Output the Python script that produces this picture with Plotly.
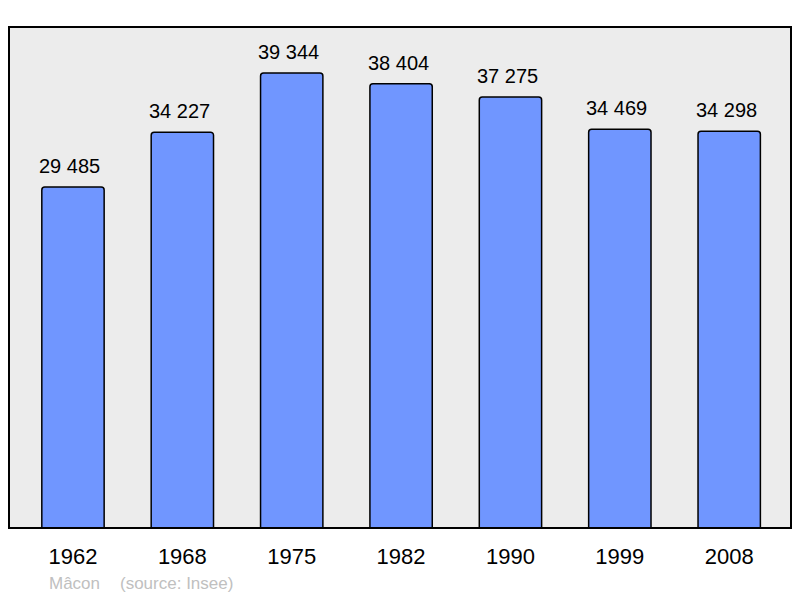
import plotly.graph_objects as go

years = ["1962", "1968", "1975", "1982", "1990", "1999", "2008"]
population = [29485, 34227, 39344, 38404, 37275, 34469, 34298]
labels = ["29 485", "34 227", "39 344", "38 404", "37 275", "34 469", "34 298"]

FONT = "Liberation Sans, Arial"

fig = go.Figure()
fig.add_trace(go.Bar(
    x=years, y=population,
    width=0.57,
    marker=dict(color="#7096ff", line=dict(color="#000000", width=1.5), cornerradius=3),
    hoverinfo="skip",
))

for i, (val, lab) in enumerate(zip(population, labels)):
    fig.add_annotation(x=i, y=val, text=lab, showarrow=False, yanchor="bottom",
                       yshift=8, xshift=-3, font=dict(family=FONT, size=20, color="#000"))

fig.add_shape(type="rect", xref="paper", yref="paper", x0=0, y0=0, x1=1, y1=1,
              line=dict(color="#000", width=2), layer="above")

fig.add_annotation(xref="paper", yref="paper", x=0.0486, y=-0.11, xanchor="left", yanchor="middle",
                   text="Mâcon", showarrow=False,
                   font=dict(family=FONT, size=17, color="#c0c0c0"))
fig.add_annotation(xref="paper", yref="paper", x=0.1394, y=-0.11, xanchor="left", yanchor="middle",
                   text="(source: Insee)", showarrow=False,
                   font=dict(family=FONT, size=17, color="#c0c0c0"))

fig.update_layout(
    width=800, height=598,
    margin=dict(l=9, r=9, t=27, b=70),
    paper_bgcolor="#ffffff", plot_bgcolor="#ececec",
    showlegend=False,
    xaxis=dict(type="category", range=[-0.585, 6.565], showgrid=False, zeroline=False, ticks="outside",
               ticklen=9, tickcolor="rgba(0,0,0,0)",
               tickfont=dict(family=FONT, size=22, color="#000")),
    yaxis=dict(range=[0, 43320], showgrid=False, zeroline=False, showticklabels=False),
)

fig.write_html("out.html", config={"displayModeBar": False},
               post_script="document.body.style.margin='0';document.body.style.overflow='hidden';")
